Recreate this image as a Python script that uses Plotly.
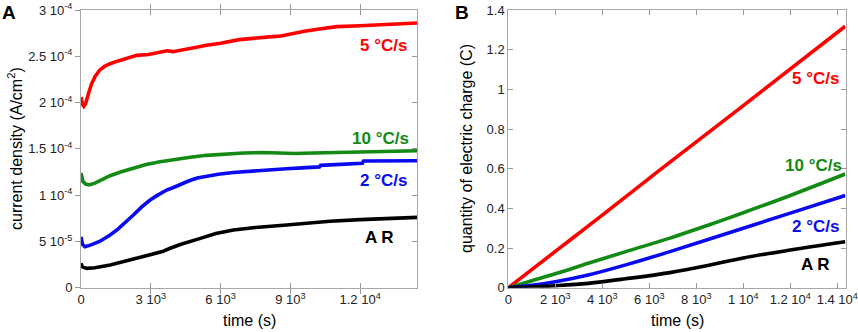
import plotly.graph_objects as go

W, H = 858, 332

# ---------------- Panel A: current density vs time ----------------
a_t_red = [0, 60, 120, 200, 300, 450, 600, 800, 1000, 1250, 1600, 2000, 2400, 2900, 3400,
           3700, 3950, 4300, 4800, 5400, 6000, 6800, 7500, 8100, 8600, 9000, 9600, 10400,
           11000, 12000, 13000, 14460]
a_red = [2.06, 1.98, 1.96, 1.99, 2.08, 2.20, 2.28, 2.35, 2.39, 2.42, 2.45, 2.48, 2.51, 2.52,
         2.54, 2.56, 2.55, 2.57, 2.59, 2.62, 2.64, 2.68, 2.70, 2.71, 2.72, 2.74, 2.77, 2.80,
         2.82, 2.83, 2.84, 2.86]

a_t_green = [0, 80, 200, 350, 600, 900, 1250, 1700, 2200, 2800, 3400, 4000, 4700, 5400, 6200,
             7000, 7800, 8600, 9200, 10000, 11000, 12000, 13000, 14460]
a_green = [1.24, 1.15, 1.12, 1.11, 1.13, 1.17, 1.21, 1.25, 1.29, 1.33, 1.36, 1.385, 1.41, 1.43,
           1.445, 1.455, 1.46, 1.455, 1.45, 1.455, 1.46, 1.465, 1.47, 1.48]

a_t_blue = [0, 60, 170, 400, 800, 1200, 1540, 1900, 2250, 2600, 2970, 3300, 3685, 4000, 4300,
            4650, 5000, 5400, 5900, 6550, 7500, 8300, 8840, 9500, 10250, 10300, 11000, 12100,
            12150, 13000, 14460]
a_blue = [0.55, 0.47, 0.443, 0.46, 0.50, 0.56, 0.623, 0.70, 0.785, 0.87, 0.947, 1.00, 1.055,
          1.085, 1.12, 1.155, 1.185, 1.205, 1.225, 1.245, 1.265, 1.28, 1.285, 1.295, 1.305,
          1.322, 1.33, 1.345, 1.368, 1.368, 1.372]

a_t_black = [0, 60, 250, 600, 1250, 1800, 2250, 2970, 3500, 3830, 4300, 5100, 5800, 6550, 7500,
             8840, 9700, 10700, 12000, 13200, 14460]
a_black = [0.263, 0.225, 0.209, 0.215, 0.245, 0.28, 0.317, 0.353, 0.39, 0.426, 0.47, 0.53,
           0.585, 0.623, 0.65, 0.677, 0.695, 0.718, 0.735, 0.75, 0.76]

a_scale = 1e-4
a_xticks = [0, 3000, 6000, 9000, 12000]
a_xtext = ["0", "3 10<sup>3</sup>", "6 10<sup>3</sup>", "9 10<sup>3</sup>", "1.2 10<sup>4</sup>"]
a_yticks = [0, 5e-5, 1e-4, 1.5e-4, 2e-4, 2.5e-4, 3e-4]
a_ytext = ["0", "5 10<sup>-5</sup>", "1 10<sup>-4</sup>", "1.5 10<sup>-4</sup>",
           "2 10<sup>-4</sup>", "2.5 10<sup>-4</sup>", "3 10<sup>-4</sup>"]

# ---------------- Panel B: quantity of electric charge vs time ----------------
b_t_red = [0, 2000, 4000, 6455, 10000, 14340]
b_red = [0, 0.183, 0.366, 0.594, 0.918, 1.318]

b_t = [0, 1000, 2000, 3400, 5000, 6880, 8500, 10000, 12000, 14340]
b_green = [0, 0.035, 0.07, 0.123, 0.182, 0.25, 0.315, 0.378, 0.465, 0.573]
b_blue = [0, 0.012, 0.03, 0.064, 0.115, 0.182, 0.243, 0.30, 0.376, 0.465]
b_black = [0, 0.004, 0.01, 0.022, 0.045, 0.076, 0.112, 0.15, 0.19, 0.232]

b_xticks = [0, 2000, 4000, 6000, 8000, 10000, 12000, 14000]
b_xtext = ["0", "2 10<sup>3</sup>", "4 10<sup>3</sup>", "6 10<sup>3</sup>", "8 10<sup>3</sup>",
           "1 10<sup>4</sup>", "1.2 10<sup>4</sup>", "1.4 10<sup>4</sup>"]
b_yticks = [0, 0.2, 0.4, 0.6, 0.8, 1.0, 1.2, 1.4]
b_ytext = ["0", "0.2", "0.4", "0.6", "0.8", "1", "1.2", "1.4"]

series_names = ["5 °C/s", "10 °C/s", "2 °C/s", "A R"]
colors = ["#ff0000", "#138a13", "#0a0af0", "#000000"]

FONT = "Liberation Sans, Arial, sans-serif"
LW = 3.6

fig = go.Figure()
for t, v, c in [(a_t_red, a_red, colors[0]), (a_t_green, a_green, colors[1]),
                (a_t_blue, a_blue, colors[2]), (a_t_black, a_black, colors[3])]:
    fig.add_trace(go.Scatter(x=t, y=[y * a_scale for y in v], mode="lines",
                             line=dict(color=c, width=LW), xaxis="x", yaxis="y",
                             showlegend=False, hoverinfo="skip"))
for t, v, c in [(b_t_red, b_red, colors[0]), (b_t, b_green, colors[1]),
                (b_t, b_blue, colors[2]), (b_t, b_black, colors[3])]:
    fig.add_trace(go.Scatter(x=t, y=v, mode="lines", line=dict(color=c, width=LW, shape="spline"),
                             xaxis="x2", yaxis="y2", showlegend=False, hoverinfo="skip"))
# dummy trace to host the right-side tick axis of panel A
fig.add_trace(go.Scatter(x=[0], y=[0], mode="markers", marker=dict(opacity=0),
                         xaxis="x", yaxis="y3", showlegend=False, hoverinfo="skip"))

def px(x):
    return x / W

def py(y):
    return 1 - y / H

ydom = [py(287.7), py(10)]
LINE = "#a8a8a8"
TICKC = "#999999"
tickfont = dict(family=FONT, size=13, color="#222222")

common = dict(showgrid=False, zeroline=False, showline=True, linecolor=LINE, linewidth=1,
              ticklen=5, tickcolor=TICKC, tickwidth=1, tickfont=tickfont, tickmode="array",
              automargin=False)

fig.update_layout(
    template="none",
    width=W, height=H, autosize=False,
    margin=dict(l=0, r=0, t=0, b=0, autoexpand=False),
    paper_bgcolor="white", plot_bgcolor="white",
    xaxis=dict(domain=[px(81), px(417.3)], range=[0, 14460], anchor="y",
               tickvals=a_xticks, ticktext=a_xtext, ticks="inside", mirror="allticks", **common),
    yaxis=dict(domain=ydom, range=[0, 3e-4], anchor="x",
               tickvals=a_yticks, ticktext=a_ytext, ticks="outside", mirror=True, **common),
    yaxis3=dict(range=[0, 3e-4], overlaying="y", side="right", anchor="x",
                tickvals=a_yticks, ticks="inside", ticklen=5, tickcolor=TICKC,
                showticklabels=False, showgrid=False, zeroline=False, showline=False,
                automargin=False),
    xaxis2=dict(domain=[px(508.3), px(845.5)], range=[0, 14350], anchor="y2",
                tickvals=b_xticks, ticktext=b_xtext, ticks="inside", mirror="allticks", **common),
    yaxis2=dict(domain=ydom, range=[0, 1.4], anchor="x2",
                tickvals=b_yticks, ticktext=b_ytext, ticks="inside", mirror="allticks", **common),
)

ann = []
def add(text, x, y, size, color="#000000", bold=False, xanchor="center", angle=0):
    ann.append(dict(text=f"<b>{text}</b>" if bold else text, x=px(x), y=py(y),
                    xref="paper", yref="paper", showarrow=False, xanchor=xanchor,
                    yanchor="middle", textangle=angle,
                    font=dict(family=FONT, size=size, color=color)))

# panel letters
add("A", 9, 12, 19, bold=True)
add("B", 462, 12, 19, bold=True)
# axis titles
add("time (s)", 249, 320, 16)
add("time (s)", 677, 320, 16)
add("current density (A/cm<sup>2</sup>)", 15, 149, 16, angle=-90)
add("quantity of electric charge (C)", 466, 149, 16, angle=-90)
# series labels panel A
add(series_names[0], 409, 45, 17, colors[0], True, "right")
add(series_names[1], 411, 138, 17, colors[1], True, "right")
add(series_names[2], 409, 180, 17, colors[2], True, "right")
add(series_names[3], 396, 237, 17, colors[3], True, "right")
# series labels panel B
add(series_names[0], 841, 79, 17, colors[0], True, "right")
add(series_names[1], 844, 165, 17, colors[1], True, "right")
add(series_names[2], 841, 227, 17, colors[2], True, "right")
add(series_names[3], 832, 264, 17, colors[3], True, "right")
fig.update_layout(annotations=ann)

fig.write_html("out.html", config={"displayModeBar": False},
               post_script="document.body.style.margin='0';document.body.style.overflow='hidden';")
